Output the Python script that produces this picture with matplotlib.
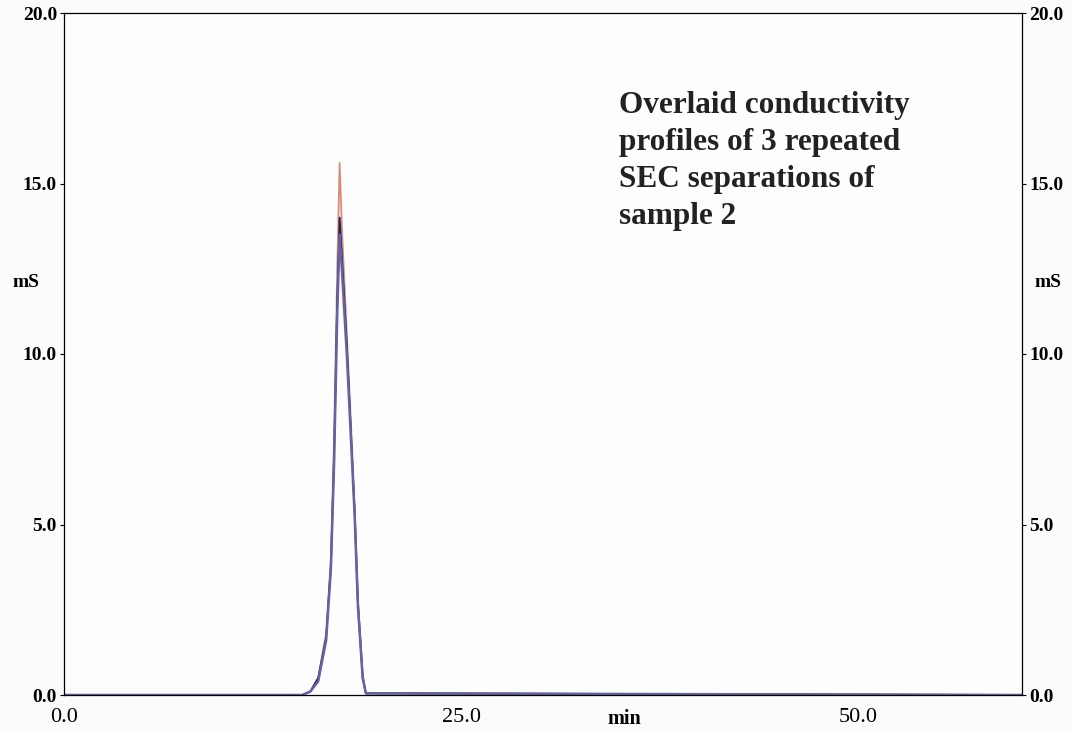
import matplotlib
matplotlib.use("Agg")
import matplotlib.pyplot as plt
from matplotlib.ticker import FormatStrFormatter

# retention time (min) and conductivity (mS) for the three repeated runs
time_min = [0.0, 15.0, 15.5, 16.0, 16.5, 16.8, 17.0, 17.2, 17.35, 17.5, 17.8, 18.0, 18.3, 18.5, 18.8, 19.0, 60.3]
run_1 = [0.0, 0.0, 0.1, 0.5, 1.8, 4.0, 7.5, 12.5, 15.6, 13.6, 10.6, 8.6, 5.5, 2.8, 0.6, 0.05, 0.0]
run_2 = [0.0, 0.0, 0.1, 0.5, 1.7, 3.8, 7.0, 11.6, 14.0, 12.8, 10.3, 8.3, 5.3, 2.7, 0.5, 0.05, 0.0]
run_3 = [0.0, 0.0, 0.1, 0.4, 1.6, 3.7, 6.8, 11.2, 13.5, 12.4, 10.0, 8.1, 5.2, 2.6, 0.5, 0.05, 0.0]

run_colors = ["#d88c78", "#1f2150", "#6464a4"]
note = "Overlaid conductivity\nprofiles of 3 repeated\nSEC separations of\nsample 2"

fig = plt.figure(figsize=(10.71, 7.32), dpi=100)
fig.patch.set_facecolor("#fbfbfb")
ax = fig.add_axes([64 / 1071, 37 / 732, 958 / 1071, 682 / 732])
ax.set_facecolor("#fdfdfd")

for vals, c, w in zip([run_1, run_2, run_3], run_colors, [1.3, 1.3, 1.8]):
    ax.plot(time_min, vals, color=c, lw=w)

ax.set_xlim(0, 60.3)
ax.set_ylim(0, 20)
ax.set_xticks([0, 25, 50])
ax.set_yticks([0, 5, 10, 15, 20])
ax.xaxis.set_major_formatter(FormatStrFormatter("%.1f"))
ax.yaxis.set_major_formatter(FormatStrFormatter("%.1f"))
ax.tick_params(axis="y", direction="out", length=3, width=0.8, pad=2,
               labelsize=14, right=True, labelright=True)
ax.tick_params(axis="x", length=0, pad=9, labelsize=16)
for lab in ax.get_yticklabels():
    lab.set_family("Liberation Serif")
    lab.set_weight("bold")
for lab in ax.get_xticklabels():
    lab.set_family("Liberation Serif")
for s in ax.spines.values():
    s.set_linewidth(0.9)

fig.text(26 / 1071, 1 - 283 / 732, "mS", family="Liberation Serif", weight="bold",
         fontsize=14, ha="center", va="center")
fig.text(1048 / 1071, 1 - 283 / 732, "mS", family="Liberation Serif", weight="bold",
         fontsize=14, ha="center", va="center")
fig.text(624 / 1071, 1 - 719 / 732, "min", family="Liberation Serif", weight="bold",
         fontsize=14.5, ha="center", va="center")

fig.text(619 / 1071, 1 - 91 / 732, note, family="Liberation Serif", weight="bold",
         fontsize=22.5, ha="left", va="top", linespacing=1.36, color="#222222")

fig.savefig("out.png", dpi=100, facecolor=fig.get_facecolor())
